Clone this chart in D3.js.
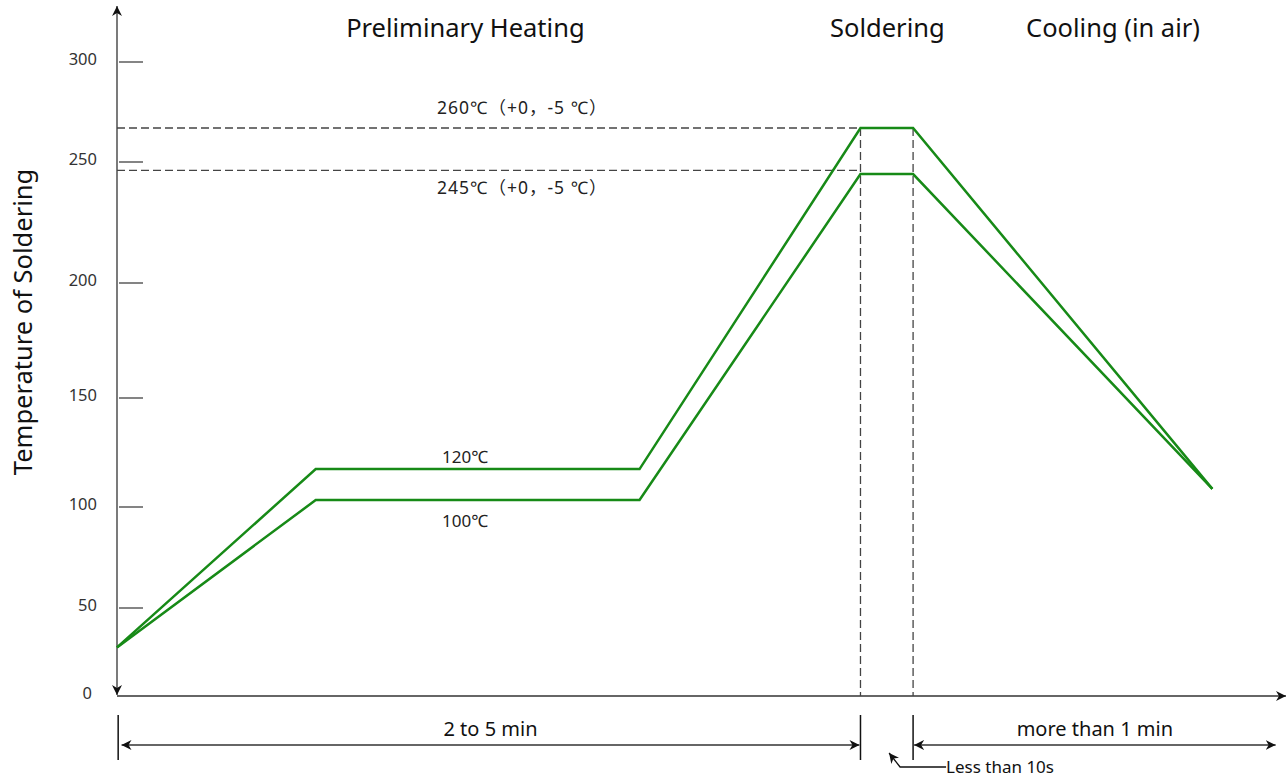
<!DOCTYPE html>
<html>
<head>
<meta charset="utf-8">
<script src="https://cdn.jsdelivr.net/npm/d3@7"></script>
<style>
  body { margin: 0; background: #fff; }
  text { font-family: "Noto Sans", "Liberation Sans", "Noto Sans CJK SC", sans-serif; }
</style>
</head>
<body>
<div id="chart"></div>
<script>
// temperature ticks (°C)
const tempTicks = [0, 50, 100, 150, 200, 250, 300];

// schematic time positions (0..100 along the time axis)
const profileTime = [0, 17.0, 44.7, 63.6, 68.1, 93.7];
const upperTemp = [27.6, 117.4, 117.4, 267, 267, 108.3];
const lowerTemp = [27.6, 103.2, 103.2, 245, 245, 108.3];

// reference levels (dashed)
const refLevels = [267, 246.5];
const refLabels = ["260℃（+0，-5 ℃）", "245℃（+0，-5 ℃）"];
const plateauLabels = ["120℃", "100℃"];

const stageNames = ["Preliminary Heating", "Soldering", "Cooling (in air)"];
const stageCenters = [29.8, 65.9, 85.2];

const spans = [
  { from: 0.3, to: 63.6, label: "2 to 5 min" },
  { from: 68.1, to: 99.2, label: "more than 1 min" }
];

const W = 1287, H = 779;
const green = "#178a17";
const axisCol = "#333";
const cjkFont = '"Noto Sans", "Noto Sans CJK SC", sans-serif';

const svg = d3.select("#chart").append("svg")
    .attr("width", W)
    .attr("height", H);

svg.append("rect").attr("width", W).attr("height", H).attr("fill", "#fff");

const defs = svg.append("defs");
defs.append("marker")
    .attr("id", "arrow")
    .attr("viewBox", "0 0 10 10")
    .attr("refX", 10).attr("refY", 5)
    .attr("markerWidth", 10).attr("markerHeight", 10)
    .attr("markerUnits", "userSpaceOnUse")
    .attr("orient", "auto-start-reverse")
    .append("path")
    .attr("d", "M0,0 L10,5 L0,10 L3,5 Z")
    .attr("fill", "#111");

const x = d3.scaleLinear().domain([0, 100]).range([117, 1286]);
// the drawing's temperature axis is not evenly spaced, so use a piecewise scale
const y = d3.scaleLinear()
    .domain(tempTicks)
    .range([696, 608, 507, 398, 283, 162, 62]);

// axes
svg.append("line")
    .attr("x1", x(0)).attr("x2", x(100))
    .attr("y1", y(0)).attr("y2", y(0))
    .attr("stroke", axisCol).attr("stroke-width", 1.3)
    .attr("marker-end", "url(#arrow)");

svg.append("line")
    .attr("x1", x(0)).attr("x2", x(0))
    .attr("y1", y(0) - 1).attr("y2", 6)
    .attr("stroke", axisCol).attr("stroke-width", 1.3)
    .attr("marker-start", "url(#arrow)")
    .attr("marker-end", "url(#arrow)");

// tick marks and labels
const ticks = svg.append("g");
ticks.selectAll("line")
    .data(tempTicks.filter(d => d > 0))
    .join("line")
    .attr("x1", x(0) + 2).attr("x2", x(0) + 26)
    .attr("y1", d => y(d)).attr("y2", d => y(d))
    .attr("stroke", axisCol).attr("stroke-width", 1.2);

ticks.selectAll("text")
    .data(tempTicks)
    .join("text")
    .attr("x", d => d === 0 ? 92 : 97)
    .attr("y", d => y(d) - 3)
    .attr("dy", "0.35em")
    .attr("text-anchor", "end")
    .attr("font-size", 16.5)
    .attr("fill", "#333")
    .text(d => d);

svg.append("text")
    .attr("transform", `translate(32,${y(150) - 76}) rotate(-90)`)
    .attr("text-anchor", "middle")
    .attr("font-size", 25.5)
    .attr("fill", "#111")
    .text("Temperature of Soldering");

// dashed reference lines
const dash = svg.append("g")
    .attr("stroke", "#444").attr("stroke-width", 1.3)
    .attr("stroke-dasharray", "8,4").attr("fill", "none");

dash.selectAll("line.h")
    .data(refLevels)
    .join("line")
    .attr("class", "h")
    .attr("x1", x(0)).attr("x2", x(profileTime[3]))
    .attr("y1", d => y(d)).attr("y2", d => y(d));

dash.selectAll("line.v")
    .data([profileTime[3], profileTime[4]])
    .join("line")
    .attr("class", "v")
    .attr("x1", d => x(d)).attr("x2", d => x(d))
    .attr("y1", y(upperTemp[3])).attr("y2", y(0));

// profile lines
const line = d3.line()
    .x((d, i) => x(profileTime[i]))
    .y(d => y(d));

[upperTemp, lowerTemp].forEach(series => {
    svg.append("path")
        .attr("d", line(series))
        .attr("fill", "none")
        .attr("stroke", green)
        .attr("stroke-width", 2.5)
        .attr("stroke-linejoin", "miter");
});

// annotations
svg.selectAll("text.ref")
    .data(refLabels)
    .join("text")
    .attr("class", "ref")
    .attr("x", 437)
    .attr("y", (d, i) => i === 0 ? y(refLevels[0]) - 14 : y(refLevels[1]) + 24)
    .attr("font-size", 17.5)
    .attr("letter-spacing", 1)
    .attr("font-family", cjkFont)
    .attr("fill", "#222")
    .text(d => d);

svg.selectAll("text.plateau")
    .data(plateauLabels)
    .join("text")
    .attr("class", "plateau")
    .attr("x", 442)
    .attr("y", (d, i) => i === 0 ? y(upperTemp[1]) - 6 : y(lowerTemp[1]) + 27)
    .attr("font-size", 17)
    .attr("font-family", cjkFont)
    .attr("fill", "#222")
    .text(d => d);

svg.selectAll("text.stage")
    .data(stageNames)
    .join("text")
    .attr("class", "stage")
    .attr("x", (d, i) => x(stageCenters[i]))
    .attr("y", 37)
    .attr("text-anchor", "middle")
    .attr("font-size", 25.5)
    .attr("fill", "#111")
    .text(d => d);

// duration dimension lines below the axis
const base = y(0);
const dim = svg.append("g");
dim.selectAll("line.ext")
    .data([0.1, profileTime[3], profileTime[4]])
    .join("line")
    .attr("class", "ext")
    .attr("x1", d => x(d)).attr("x2", d => x(d))
    .attr("y1", base + 19).attr("y2", base + 64)
    .attr("stroke", "#111").attr("stroke-width", 1.5);

dim.selectAll("line.span")
    .data(spans)
    .join("line")
    .attr("class", "span")
    .attr("x1", d => x(d.from) + 1).attr("x2", d => x(d.to) - 1)
    .attr("y1", base + 49).attr("y2", base + 49)
    .attr("stroke", "#333").attr("stroke-width", 1.3)
    .attr("marker-start", "url(#arrow)")
    .attr("marker-end", "url(#arrow)");

dim.selectAll("text.span")
    .data(spans)
    .join("text")
    .attr("class", "span")
    .attr("x", d => x((d.from + d.to) / 2))
    .attr("y", base + 40)
    .attr("text-anchor", "middle")
    .attr("font-size", 20)
    .attr("fill", "#111")
    .text(d => d.label);

// "Less than 10s" leader
const lx = x(profileTime[4]);
svg.append("path")
    .attr("d", `M${lx + 33},${base + 71} L${lx - 13},${base + 71} L${lx - 24},${base + 57}`)
    .attr("fill", "none")
    .attr("stroke", "#111").attr("stroke-width", 1.3)
    .attr("marker-end", "url(#arrow)");

svg.append("text")
    .attr("x", lx + 33)
    .attr("y", base + 77)
    .attr("font-size", 17)
    .attr("fill", "#111")
    .text("Less than 10s");
</script>
</body>
</html>
